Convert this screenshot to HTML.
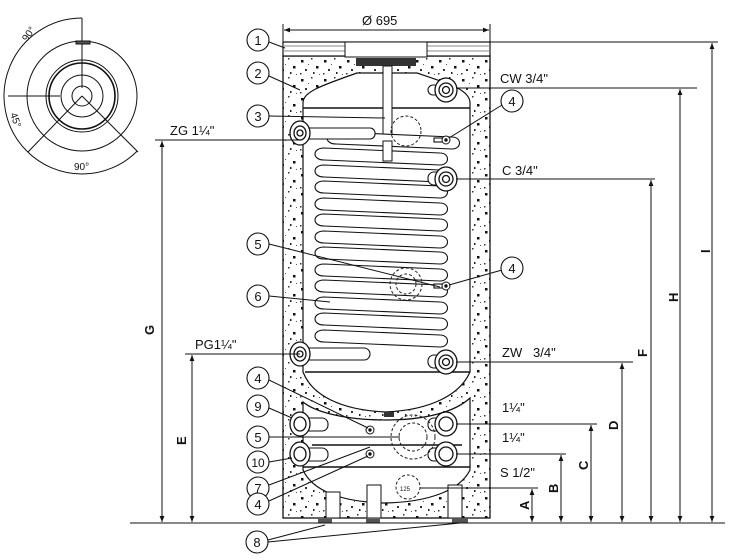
<!DOCTYPE html>
<html><head><meta charset="utf-8"><style>
html,body{margin:0;padding:0;background:#fff}
svg{display:block}
text{font-family:"Liberation Sans",Arial,sans-serif;fill:#111}
</style></head><body>
<svg width="739" height="560" viewBox="0 0 739 560" xmlns="http://www.w3.org/2000/svg">
<defs>
<pattern id="dots" width="23" height="19" patternUnits="userSpaceOnUse">
<rect x="2" y="3" width="2.5" height="2.5" fill="#111"/><rect x="12" y="1" width="1.5" height="1.5" fill="#333"/>
<rect x="17" y="9" width="2.5" height="2.5" fill="#111"/><rect x="6" y="12" width="2" height="2" fill="#333"/>
<rect x="14" y="15" width="1.5" height="2" fill="#222"/><rect x="9" y="7" width="1" height="1" fill="#555"/>
<rect x="20" y="17" width="1" height="1" fill="#555"/><rect x="1" y="16" width="1.5" height="1.5" fill="#333"/>
</pattern>
<g id="turn" fill="#fff" stroke="#111" stroke-width="1.1">
<path d="M332,0 L448,5 C458,5 458,17 448,17 L332,12 C320,12 320,0 332,0 Z"/>
</g>
<marker id="ar" viewBox="0 0 10 10" refX="10" refY="5" markerWidth="6" markerHeight="6" orient="auto-start-reverse"><path d="M0,1 L10,5 L0,9 Z" fill="#111"/></marker>
</defs>

<!-- top view -->
<g fill="none" stroke="#111" stroke-width="1">
<circle cx="82" cy="96" r="55"/><circle cx="82" cy="96" r="36"/><circle cx="82" cy="96" r="33" stroke-width="1.6"/>
<circle cx="82" cy="96" r="21"/><circle cx="82" cy="96" r="10"/>
<path d="M82,18 A78,78 0 0 0 26.85,151.15"/>
<path d="M26.85,151.15 A78,78 0 0 0 137.15,151.15"/>
<line x1="82" y1="18" x2="82" y2="88"/><line x1="8" y1="96" x2="60" y2="96"/>
<line x1="82" y1="96" x2="28" y2="152"/><line x1="82" y1="96" x2="138" y2="152"/>
<rect x="76" y="41" width="14" height="3" fill="#555"/>
</g>
<text x="27" y="42" font-size="10" transform="rotate(-55 27 42)">90°</text>
<text x="10" y="114" font-size="10" transform="rotate(70 10 114)">45°</text>
<text x="74" y="170" font-size="10">90°</text>

<!-- tank outer -->
<rect x="283" y="56" width="207" height="462" fill="url(#dots)" stroke="#111" stroke-width="1.3"/>
<rect x="283" y="42" width="207" height="14" fill="#fff" stroke="#111" stroke-width="1.2"/>
<line x1="283" y1="46" x2="490" y2="46" stroke="#888"/>
<line x1="283" y1="51" x2="490" y2="51" stroke="#888"/>
<rect x="345" y="42" width="82" height="15" fill="#fff" stroke="#111"/>
<!-- inner tank upper -->
<path d="M303,372 L303,103 C303,92 320,86 357,73 L417,73 C450,84 470,90 470,103 L470,372 C460,395 430,410 386,412 C340,410 312,395 303,372 Z" fill="#fff" stroke="#111" stroke-width="1.2"/>
<line x1="303" y1="108" x2="470" y2="108" stroke="#111" stroke-width="1.5"/>
<line x1="305" y1="372" x2="470" y2="372" stroke="#111" stroke-width="1.5"/>
<!-- lower tank -->
<path d="M303,402 L303,470 C312,490 340,502 385,503 C430,502 460,490 470,470 L470,398 C455,412 425,420 386,420 C345,420 315,412 303,402 Z" fill="#fff" stroke="#111" stroke-width="1.2"/>
<line x1="303" y1="467" x2="470" y2="467" stroke="#111" stroke-width="1.5"/>
<line x1="312" y1="445" x2="462" y2="445" stroke="#111" stroke-width="1.5"/>
<!-- top fitting -->
<rect x="356" y="58" width="60" height="8" fill="#333"/>
<rect x="383" y="66" width="9" height="75" fill="#fff" stroke="#111"/>
<!-- coil -->
<g>
<use href="#turn" transform="translate(4,132)"/>
<use href="#turn" transform="translate(-8,148)"/>
<use href="#turn" transform="translate(-8,165)"/>
<use href="#turn" transform="translate(-8,181)"/>
<use href="#turn" transform="translate(-8,198)"/>
<use href="#turn" transform="translate(-8,214)"/>
<use href="#turn" transform="translate(-8,231)"/>
<use href="#turn" transform="translate(-8,247)"/>
<use href="#turn" transform="translate(-8,264)"/>
<use href="#turn" transform="translate(-8,280)"/>
<use href="#turn" transform="translate(-8,297)"/>
<use href="#turn" transform="translate(-8,313)"/>
<use href="#turn" transform="translate(-8,330)"/>
</g>
<rect x="383" y="141" width="9" height="20" fill="#fff" stroke="#111"/>
<!-- connector pipes -->
<g fill="#fff" stroke="#111" stroke-width="1.1">
<rect x="300" y="128" width="75" height="11" rx="5"/>
<rect x="300" y="348" width="70" height="12" rx="6"/>
<rect x="300" y="418" width="28" height="13" rx="6"/>
<rect x="300" y="448" width="28" height="13" rx="6"/>
<rect x="428" y="85" width="20" height="10" rx="5"/>
<rect x="428" y="172" width="20" height="13" rx="6"/>
<rect x="428" y="355" width="20" height="13" rx="6"/>
<rect x="428" y="418" width="20" height="13" rx="6"/>
<rect x="428" y="448" width="20" height="13" rx="6"/>
<rect x="434" y="138" width="12" height="4"/>
<rect x="434" y="284" width="12" height="4"/>
</g>
<!-- fittings -->
<g fill="#fff" stroke="#111">
<g stroke-width="1.3">
<ellipse cx="300" cy="133" rx="10" ry="12"/><ellipse cx="300" cy="133" rx="6" ry="7"/><circle cx="300" cy="133" r="3"/>
<ellipse cx="300" cy="354" rx="10" ry="12"/><ellipse cx="300" cy="354" rx="6" ry="7"/><circle cx="300" cy="354" r="3"/>
<ellipse cx="300" cy="424" rx="10" ry="12"/><ellipse cx="300" cy="424" rx="6" ry="7"/>
<ellipse cx="300" cy="454" rx="10" ry="12"/><ellipse cx="300" cy="454" rx="6" ry="7"/>
<ellipse cx="446" cy="90" rx="11" ry="12"/><circle cx="446" cy="90" r="7"/><circle cx="446" cy="90" r="3.5"/>
<ellipse cx="446" cy="179" rx="11" ry="12"/><circle cx="446" cy="179" r="7"/><circle cx="446" cy="179" r="3.5"/>
<ellipse cx="446" cy="362" rx="11" ry="12"/><circle cx="446" cy="362" r="7"/><circle cx="446" cy="362" r="3.5"/>
<ellipse cx="446" cy="424" rx="11" ry="12"/><circle cx="446" cy="424" r="7"/>
<ellipse cx="446" cy="454" rx="11" ry="12"/><circle cx="446" cy="454" r="7"/>
</g>
<circle cx="446" cy="140" r="4"/><circle cx="446" cy="140" r="1.2" fill="#111"/>
<circle cx="446" cy="286" r="4"/><circle cx="446" cy="286" r="1.2" fill="#111"/>
<circle cx="370" cy="430" r="4"/><circle cx="370" cy="430" r="1.2" fill="#111"/>
<circle cx="370" cy="454" r="4"/><circle cx="370" cy="454" r="1.2" fill="#111"/>
</g>
<g fill="none" stroke="#222" stroke-dasharray="3,2">
<circle cx="406" cy="131" r="15"/><circle cx="406" cy="284" r="16"/><circle cx="406" cy="284" r="10"/>
<circle cx="413" cy="437" r="22"/><circle cx="413" cy="437" r="14"/><circle cx="408" cy="487" r="12"/>
</g>
<text x="400" y="491" font-size="6">125</text>
<rect x="384" y="412" width="10" height="5" fill="#333"/>
<!-- legs -->
<g fill="#fff" stroke="#111">
<rect x="326" y="492" width="14" height="26"/><rect x="367" y="485" width="14" height="33"/><rect x="448" y="485" width="14" height="33"/>
</g>
<g fill="#555"><rect x="318" y="519" width="14" height="4"/><rect x="366" y="519" width="14" height="4"/><rect x="452" y="518" width="16" height="5"/></g>

<!-- dimensions -->
<g stroke="#111" stroke-width="1" fill="none">
<line x1="283" y1="24" x2="283" y2="42"/><line x1="490" y1="24" x2="490" y2="42"/>
<line x1="284" y1="30" x2="489" y2="30" marker-start="url(#ar)" marker-end="url(#ar)"/>
<line x1="130" y1="523" x2="725" y2="523"/>
<line x1="490" y1="42" x2="718" y2="42"/>
<line x1="456" y1="88" x2="697" y2="88"/>
<line x1="456" y1="179" x2="655" y2="179"/>
<line x1="456" y1="362" x2="633" y2="362"/>
<line x1="456" y1="424" x2="597" y2="424"/>
<line x1="456" y1="454" x2="566" y2="454"/>
<line x1="420" y1="488" x2="538" y2="488"/>
<line x1="712" y1="43" x2="712" y2="522" marker-start="url(#ar)" marker-end="url(#ar)"/>
<line x1="680" y1="89" x2="680" y2="522" marker-start="url(#ar)" marker-end="url(#ar)"/>
<line x1="651" y1="180" x2="651" y2="522" marker-start="url(#ar)" marker-end="url(#ar)"/>
<line x1="622" y1="363" x2="622" y2="522" marker-start="url(#ar)" marker-end="url(#ar)"/>
<line x1="591" y1="425" x2="591" y2="522" marker-start="url(#ar)" marker-end="url(#ar)"/>
<line x1="561" y1="455" x2="561" y2="522" marker-start="url(#ar)" marker-end="url(#ar)"/>
<line x1="532" y1="489" x2="532" y2="522" marker-start="url(#ar)" marker-end="url(#ar)"/>
<line x1="155" y1="140" x2="300" y2="140"/>
<line x1="162" y1="141" x2="162" y2="522" marker-start="url(#ar)" marker-end="url(#ar)"/>
<line x1="185" y1="354" x2="300" y2="354"/>
<line x1="192" y1="355" x2="192" y2="522" marker-start="url(#ar)" marker-end="url(#ar)"/>
</g>
<g font-size="13">
<text x="362" y="25">Ø 695</text>
<text x="500" y="83">CW 3/4"</text>
<text x="502" y="175">C 3/4"</text>
<text x="502" y="357">ZW&#160;&#160;&#160;3/4"</text>
<text x="502" y="412">1¼"</text>
<text x="502" y="442">1¼"</text>
<text x="500" y="477">S 1/2"</text>
<text x="170" y="135">ZG 1¼"</text>
<text x="195" y="349">PG1¼"</text>
</g>
<g font-size="13" font-weight="bold">
<text x="0" y="0" transform="translate(529,510) rotate(-90)">A</text>
<text x="0" y="0" transform="translate(558,493) rotate(-90)">B</text>
<text x="0" y="0" transform="translate(588,470) rotate(-90)">C</text>
<text x="0" y="0" transform="translate(618,430) rotate(-90)">D</text>
<text x="0" y="0" transform="translate(647,357) rotate(-90)">F</text>
<text x="0" y="0" transform="translate(678,302) rotate(-90)">H</text>
<text x="0" y="0" transform="translate(710,253) rotate(-90)">I</text>
<text x="0" y="0" transform="translate(154,335) rotate(-90)">G</text>
<text x="0" y="0" transform="translate(186,445) rotate(-90)">E</text>
</g>

<!-- callouts -->
<g stroke="#111" fill="none" stroke-width="1">
<line x1="269" y1="42" x2="285" y2="48"/>
<line x1="269" y1="76" x2="300" y2="90"/>
<line x1="269" y1="116" x2="385" y2="118"/>
<line x1="269" y1="244" x2="440" y2="287"/>
<line x1="269" y1="296" x2="330" y2="302"/>
<line x1="269" y1="380" x2="368" y2="428"/>
<line x1="269" y1="408" x2="292" y2="418"/>
<line x1="269" y1="437" x2="400" y2="437"/>
<line x1="269" y1="462" x2="292" y2="458"/>
<line x1="269" y1="485" x2="370" y2="447"/>
<line x1="269" y1="501" x2="368" y2="456"/>
<line x1="268" y1="540" x2="325" y2="525"/>
<line x1="268" y1="542" x2="460" y2="523"/>
<line x1="502" y1="105" x2="449" y2="138"/>
<line x1="502" y1="270" x2="449" y2="285"/>
</g>
<g fill="#fff" stroke="#111" stroke-width="1.1">
<circle cx="258" cy="40" r="11"/><circle cx="258" cy="73" r="11"/><circle cx="258" cy="116" r="11"/>
<circle cx="258" cy="244" r="11"/><circle cx="258" cy="296" r="11"/><circle cx="258" cy="378" r="11"/>
<circle cx="258" cy="406" r="11"/><circle cx="258" cy="437" r="11"/><circle cx="258" cy="462" r="11"/>
<circle cx="258" cy="488" r="11"/><circle cx="258" cy="504" r="11"/><circle cx="257" cy="542" r="11"/>
<circle cx="512" cy="101" r="11"/><circle cx="512" cy="268" r="11"/>
</g>
<g font-size="13" text-anchor="middle">
<text x="258" y="45">1</text><text x="258" y="78">2</text><text x="258" y="121">3</text>
<text x="258" y="249">5</text><text x="258" y="301">6</text><text x="258" y="383">4</text>
<text x="258" y="411">9</text><text x="258" y="442">5</text><text x="258" y="467" font-size="12">10</text>
<text x="258" y="493">7</text><text x="258" y="509">4</text><text x="257" y="547">8</text>
<text x="512" y="106">4</text><text x="512" y="273">4</text>
</g>
</svg>
</body></html>
